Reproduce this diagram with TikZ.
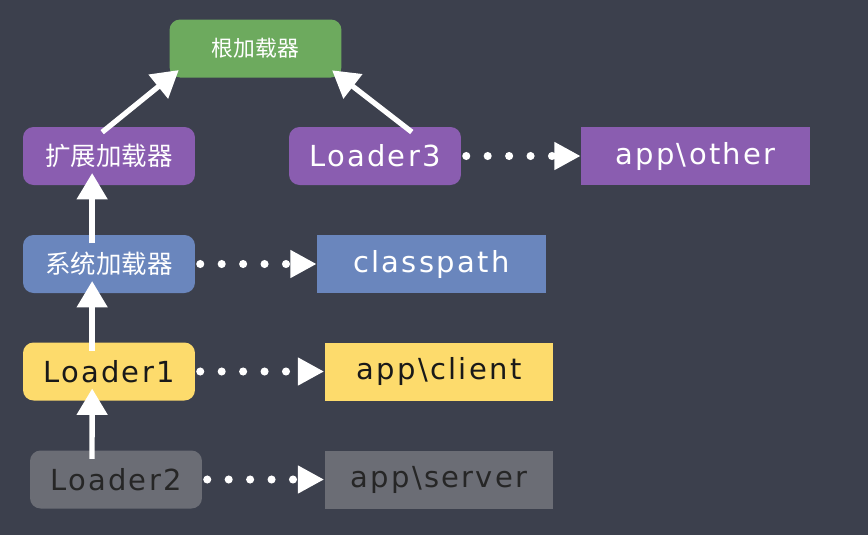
\documentclass[tikz,border=0pt]{standalone}
\usepackage{fontspec}
\setmainfont{DejaVu Sans}
\newfontfamily\cjk{Noto Sans CJK SC}
\newfontfamily\chalkfont[LetterSpace=8]{DejaVu Sans}
\usetikzlibrary{arrows.meta}
\definecolor{board}{HTML}{3C404D}
\definecolor{rootgreen}{HTML}{6DAA5E}
\definecolor{extpurple}{HTML}{8A5DB0}
\definecolor{sysblue}{HTML}{6A86BD}
\definecolor{appyellow}{HTML}{FDDB6C}
\definecolor{appgray}{HTML}{6B6D75}
\tikzset{
    loader/.style={rounded corners=6pt, minimum width=3.44cm, minimum height=1.16cm, inner sep=0pt}, % 加载器的样式
    dir/.style={minimum width=4.58cm, minimum height=1.16cm, inner sep=0pt}, % 目录的样式
    chalk/.style={draw=white, line width=3pt, -{Triangle[length=15pt,width=17pt]}, shorten <=-5pt, shorten >=-7pt}, % 委托箭头
    dots/.style={draw=white, line width=4.6pt, line cap=round, dash pattern=on 0pt off 12.2pt, -{Triangle[length=15pt,width=15pt]}, shorten <=2.8pt} % 加载路径
}

\begin{document}
\begin{tikzpicture}[x=0.02cm, y=-0.02cm]
            \fill[board] (0,0) rectangle (868,535);

            \node[loader, fill=rootgreen, text=white, font=\cjk\fontsize{12.4}{14}\selectfont] (root) at (255.5,48.5) {根加载器};
            \node[loader, fill=extpurple, text=white, font=\cjk\fontsize{14.5}{17}\selectfont] (ext) at (109,156) {扩展加载器};
            \node[loader, fill=extpurple, text=white, font=\chalkfont\fontsize{16.5}{19}\selectfont] (l3) at (375,156) {Loader3};
            \node[dir, fill=extpurple, text=white, font=\chalkfont\fontsize{16.5}{19}\selectfont] (other) at (695.5,156) {app\textbackslash other};
            \node[loader, fill=sysblue, text=white, font=\cjk\fontsize{14.5}{17}\selectfont] (sys) at (109,264) {系统加载器};
            \node[dir, fill=sysblue, text=white, font=\chalkfont\fontsize{16.5}{19}\selectfont] (cp) at (431.5,264) {classpath};
            \node[loader, fill=appyellow, text=black!90, font=\chalkfont\fontsize{16.5}{19}\selectfont] (l1) at (109,371.5) {Loader1};
            \node[dir, fill=appyellow, text=black!90, font=\chalkfont\fontsize{16.5}{19}\selectfont] (client) at (439,371.5) {app\textbackslash client};
            \node[loader, fill=appgray, text=black!85, font=\chalkfont\fontsize{16.5}{19}\selectfont] (l2) at (116,479.5) {Loader2};
            \node[dir, fill=appgray, text=black!85, font=\chalkfont\fontsize{16.5}{19}\selectfont] (server) at (439,479.5) {app\textbackslash server};

            % 双亲委托
            \draw[chalk] (ext.north) -- (root.south west);
            \draw[chalk] ([xshift=17pt]l3.north) -- (root.south east);
            \draw[chalk] ([xshift=-9.6pt]sys.north) -- ([xshift=-9.6pt]ext.south);
            \draw[chalk] ([xshift=-9.6pt]l1.north) -- ([xshift=-9.6pt]sys.south);
            \draw[chalk] ([xshift=-13.6pt]l2.north) -- ([xshift=-9.6pt]l1.south);

            \draw[dots] (l3.east) -- (other.west);
            \draw[dots] (sys.east) -- (cp.west);
            \draw[dots] (l1.east) -- (client.west);
            \draw[dots] (l2.east) -- (server.west);
        \end{tikzpicture}
\end{document}
